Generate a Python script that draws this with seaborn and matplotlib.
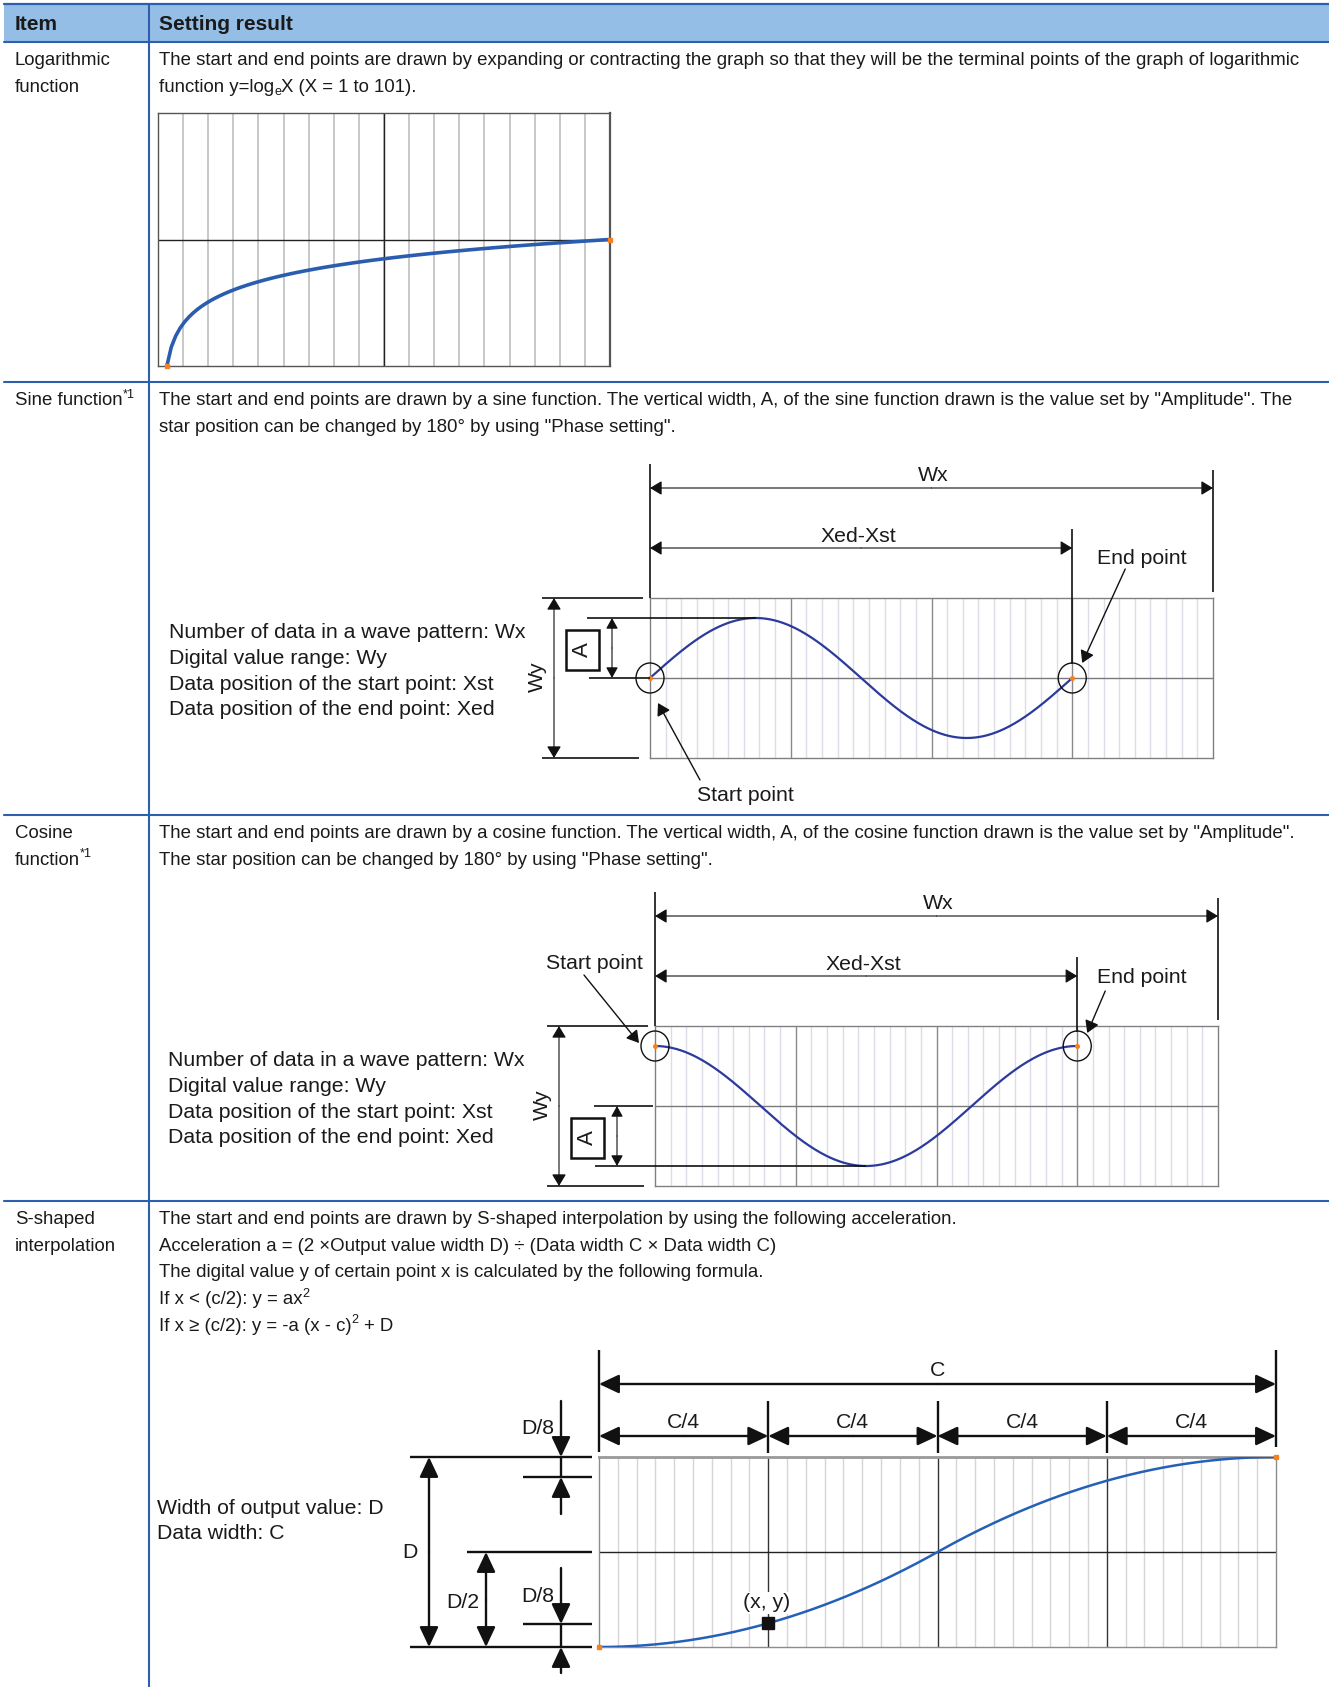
import numpy as np
import pandas as pd
import matplotlib
matplotlib.use("Agg")
import matplotlib.pyplot as plt
from matplotlib.patches import Rectangle, Ellipse
import seaborn as sns

W, H = 1329, 1687

# ---- chart data ----
LOG_X = np.arange(1, 102)            # X = 1 to 101
LOG_COLUMNS = 18                     # grid columns of the log chart
WAVE_COLUMNS = 36                    # Wx: data positions in the wave pattern
WAVE_XST, WAVE_XED = 0, 27           # data positions of start / end point
WAVE_AMPLITUDE = 0.75                # A, as a fraction of Wy / 2
S_WIDTH = 36                         # data width C
S_OUTPUT = 1.0                       # output value width D
S_SECTIONS = ["C/4", "C/4", "C/4", "C/4"]

HEADERS = ["Item", "Setting result"]
ROW_TOPS = [42, 382, 815, 1201]
ITEMS = [
    [[("Logarithmic", "n")], [("function", "n")]],
    [[("Sine function", "n"), ("*1", "sup")]],
    [[("Cosine", "n")], [("function", "n"), ("*1", "sup")]],
    [[("S-shaped", "n")], [("interpolation", "n")]],
]
BODY = [
    [[("The start and end points are drawn by expanding or contracting the graph so that they will be the terminal points of the graph of logarithmic", "n")],
     [("function y=log", "n"), ("e", "sub"), ("X (X = 1 to 101).", "n")]],
    [[("The start and end points are drawn by a sine function. The vertical width, A, of the sine function drawn is the value set by \"Amplitude\". The", "n")],
     [("star position can be changed by 180° by using \"Phase setting\".", "n")]],
    [[("The start and end points are drawn by a cosine function. The vertical width, A, of the cosine function drawn is the value set by \"Amplitude\".", "n")],
     [("The star position can be changed by 180° by using \"Phase setting\".", "n")]],
    [[("The start and end points are drawn by S-shaped interpolation by using the following acceleration.", "n")],
     [("Acceleration a = (2 ×Output value width D) ÷ (Data width C × Data width C)", "n")],
     [("The digital value y of certain point x is calculated by the following formula.", "n")],
     [("If x < (c/2): y = ax", "n"), ("2", "sup")],
     [("If x ≥ (c/2): y = -a (x - c)", "n"), ("2", "sup"), (5, "gap"), ("+ D", "n")]],
]
WAVE_NOTES = ["Number of data in a wave pattern: Wx", "Digital value range: Wy",
              "Data position of the start point: Xst", "Data position of the end point: Xed"]
S_NOTES = ["Width of output value: D", "Data width: C"]

BLUE = "#2d5fae"
HEAD_FILL = "#95bee6"
ORANGE = "#f5821f"
BODY_FS, DIAG_FS, HEAD_FS = 13.4, 15.3, 15

sns.set_theme(style="white")
plt.rcParams["font.family"] = ["Liberation Sans", "DejaVu Sans"]

fig = plt.figure(figsize=(W / 100, H / 100), dpi=100)
renderer = fig.canvas.get_renderer()


def full_axes(z):
    a = fig.add_axes([0, 0, 1, 1], zorder=z)
    a.set_xlim(0, W)
    a.set_ylim(H, 0)
    a.axis("off")
    a.patch.set_alpha(0)
    return a


def px_axes(x0, y0, x1, y1):
    a = fig.add_axes([x0 / W, 1 - y1 / H, (x1 - x0) / W, (y1 - y0) / H], zorder=1)
    a.set_xticks([])
    a.set_yticks([])
    return a


def rich_text(ax, x, y, parts, size, **kw):
    for txt, kind in parts:
        if kind == "gap":
            x += txt
            continue
        fs = size if kind == "n" else size * 0.68
        dy = {"n": 0, "sup": -size * 0.55, "sub": size * 0.25}[kind]
        t = ax.text(x, y + dy, txt, fontsize=fs, va="baseline", ha="left", **kw)
        x += t.get_window_extent(renderer=renderer).width
    return x


bg = full_axes(0)
ov = full_axes(5)

# ---- table ----
bg.add_patch(Rectangle((4, 4), W - 4, 38, facecolor=HEAD_FILL, edgecolor="none"))
bg.plot([4, W], [4, 4], color=BLUE, lw=1.6)
for y in ROW_TOPS:
    bg.plot([4, W], [y, y], color=BLUE, lw=1.5)
bg.plot([149, 149], [4, H], color=BLUE, lw=1.5)
bg.text(15, 22, HEADERS[0], fontsize=HEAD_FS, fontweight="bold", va="center_baseline", color="#1a1a1a")
bg.text(159, 22, HEADERS[1], fontsize=HEAD_FS, fontweight="bold", va="center_baseline", color="#1a1a1a")

for top, item, body in zip(ROW_TOPS, ITEMS, BODY):
    for i, parts in enumerate(item):
        rich_text(bg, 15, top + 23 + i * 26.7, parts, BODY_FS, color="#1a1a1a")
    for i, parts in enumerate(body):
        rich_text(bg, 159, top + 23 + i * 26.7, parts, BODY_FS, color="#1a1a1a")


def arrow(x0, y0, x1, y1, style="-|>", lw=0.8, hl=10, hw=12):
    ov.annotate("", xy=(x1, y1), xytext=(x0, y0),
                arrowprops=dict(arrowstyle=f"{style},head_length={hl * 0.072},head_width={hw * 0.036}",
                                mutation_scale=10, color="#111111", lw=lw,
                                shrinkA=0, shrinkB=0))


def seg(x0, y0, x1, y1, lw=1.0, color="#111111"):
    ov.plot([x0, x1], [y0, y1], color=color, lw=lw, solid_capstyle="butt")


def label(x, y, s, rot=0, fs=DIAG_FS, box=False):
    kw = {}
    if box:
        kw["bbox"] = dict(facecolor="white", edgecolor="none", pad=1.0)
    ov.text(x, y, s, fontsize=fs, ha="center", va="center_baseline" if rot == 0 else "center",
            rotation=rot, color="#1a1a1a", **kw)


# ---- logarithmic chart ----
ax1 = px_axes(158, 113, 610, 366)
x_lo, x_hi = -1, LOG_X[-1]
y_end = np.log(LOG_X[-1])
for gx in np.linspace(x_lo, x_hi, LOG_COLUMNS + 1)[1:-1]:
    ax1.axvline(gx, color="#c8c8c8", lw=1.4, zorder=0)
ax1.axvline((x_lo + x_hi) / 2, color="#222222", lw=1.0, zorder=1)
ax1.axhline(y_end, color="#222222", lw=1.0, zorder=1)
log_df = pd.DataFrame({"X": LOG_X, "y": np.log(LOG_X)})
sns.lineplot(data=log_df, x="X", y="y", ax=ax1, color="#2a5db0", lw=2.6,
             estimator=None, sort=False, zorder=3, clip_on=False)
ax1.plot([LOG_X[0], LOG_X[-1]], [0, y_end], "s", color=ORANGE, ms=3.5, zorder=4, clip_on=False)
ax1.set_xlim(x_lo, x_hi)
ax1.set_ylim(0, 2 * y_end)
ax1.set_xlabel("")
ax1.set_ylabel("")
for sp in ax1.spines.values():
    sp.set_color("#555555")
    sp.set_linewidth(1.0)
ax1.spines["right"].set_linewidth(1.6)


# ---- sine / cosine diagrams ----
def wave_diagram(bx, by, kind):
    bw, bh = 563, 160
    ax = px_axes(bx, by, bx + bw, by + bh)
    for gx in range(1, WAVE_COLUMNS):
        major = gx % 9 == 0
        ax.axvline(gx, color="#8a8a8a" if major else "#dcdde6", lw=1.0, zorder=0)
    ax.axhline(0, color="#7a7a7a", lw=1.0, zorder=1)
    xs = np.linspace(WAVE_XST, WAVE_XED, 300)
    phase = 2 * np.pi * (xs - WAVE_XST) / (WAVE_XED - WAVE_XST)
    ys = WAVE_AMPLITUDE * (np.sin(phase) if kind == "sin" else np.cos(phase))
    sns.lineplot(x=xs, y=ys, ax=ax, color="#2c3a9c", lw=1.6, estimator=None, sort=False, zorder=3)
    ax.plot([xs[0], xs[-1]], [ys[0], ys[-1]], "o", color=ORANGE, ms=2.6, zorder=4, clip_on=False)
    ax.set_xlim(0, WAVE_COLUMNS)
    ax.set_ylim(-1, 1)
    ax.set_xlabel("")
    ax.set_ylabel("")
    for sp in ax.spines.values():
        sp.set_color("#808080")
        sp.set_linewidth(1.0)

    def to_px(x, y):
        return bx + x / WAVE_COLUMNS * bw, by + (1 - y) / 2 * bh

    xed = to_px(WAVE_XED, 0)[0]
    _, yc = to_px(0, ys[0])
    # Wx / Xed-Xst dimension lines
    seg(bx, by - 134, bx, by, lw=1.2)
    seg(bx + bw, by - 128, bx + bw, by - 6, lw=1.2)
    arrow(bx + bw / 2, by - 110, bx, by - 110)
    arrow(bx + bw / 2, by - 110, bx + bw, by - 110)
    label(bx + 283, by - 125, "Wx")
    seg(xed, by - 69, xed, yc - 14, lw=1.2)
    arrow((bx + xed) / 2, by - 50, bx, by - 50)
    arrow((bx + xed) / 2, by - 50, xed, by - 50)
    label(bx + 208, by - 64, "Xed-Xst")
    # circles round start / end points
    for cx in (bx, xed):
        ov.add_patch(Ellipse((cx, yc), 28, 30, fill=False, edgecolor="#111111", lw=1.0))
    # Wy
    seg(bx - 108, by, bx - 7, by, lw=1.2)
    seg(bx - 108, by + bh, bx - 11, by + bh, lw=1.2)
    arrow(bx - 96, by + bh / 2, bx - 96, by)
    arrow(bx - 96, by + bh / 2, bx - 96, by + bh)
    label(bx - 113, by + 79, "Wy", rot=90)
    # A
    mid = to_px(0, 0)[1]
    if kind == "sin":
        peak_x, peak_y = to_px(WAVE_XST + (WAVE_XED - WAVE_XST) / 4, WAVE_AMPLITUDE)
        seg(bx - 63, peak_y, peak_x, peak_y, lw=1.2)
        seg(bx - 61, mid, bx, mid, lw=1.2)
        a_top, a_bot = peak_y, mid
    else:
        tr_x, tr_y = to_px(WAVE_XST + (WAVE_XED - WAVE_XST) / 2, -WAVE_AMPLITUDE)
        seg(bx - 61, mid, bx - 2, mid, lw=1.2)
        seg(bx - 60, tr_y, tr_x, tr_y, lw=1.2)
        a_top, a_bot = mid, tr_y
    arrow(bx - 38, (a_top + a_bot) / 2, bx - 38, a_top, hl=9, hw=10)
    arrow(bx - 38, (a_top + a_bot) / 2, bx - 38, a_bot, hl=9, hw=10)
    ac = (a_top + a_bot) / 2 + 2
    ov.add_patch(Rectangle((bx - 84, ac - 20), 33, 40, fill=False, edgecolor="#111111", lw=1.8))
    label(bx - 67.5, ac, "A", rot=90, fs=16)
    # start / end point callouts
    if kind == "sin":
        label(bx + 95, by + 195, "Start point")
        arrow(bx + 50, by + 182, bx + 8, by + 105, lw=1.0)
        label(xed + 70, by - 41, "End point")
        arrow(xed + 53, by - 29, xed + 10, by + 65, lw=1.0)
    else:
        label(bx - 61, by - 65, "Start point")
        arrow(bx - 71, by - 51, bx - 16, by + 17, lw=1.0)
        label(xed + 65, by - 51, "End point")
        arrow(xed + 28, by - 35, xed + 10, by + 7, lw=1.0)


wave_diagram(650, 598, "sin")
wave_diagram(655, 1026, "cos")

for i, s in enumerate(WAVE_NOTES):
    bg.text(169, 638 + i * 25.8, s, fontsize=DIAG_FS, va="baseline", color="#1a1a1a")
    bg.text(168, 1066 + i * 25.8, s, fontsize=DIAG_FS, va="baseline", color="#1a1a1a")

# ---- S-shaped interpolation ----
bx, by, bw, bh = 599, 1457, 677, 190
ax4 = px_axes(bx, by, bx + bw, by + bh)
for gx in range(1, S_WIDTH):
    major = gx % (S_WIDTH // 4) == 0
    ax4.axvline(gx, color="#333333" if major else "#d6d6d6", lw=1.0, zorder=0)
ax4.axhline(S_OUTPUT / 2, color="#222222", lw=1.0, zorder=1)
acc = 2 * S_OUTPUT / S_WIDTH ** 2
sx = np.linspace(0, S_WIDTH, 361)
sy = np.where(sx < S_WIDTH / 2, acc * sx ** 2, -acc * (sx - S_WIDTH) ** 2 + S_OUTPUT)
sns.lineplot(x=sx, y=sy, ax=ax4, color="#2560b8", lw=1.8, estimator=None, sort=False, zorder=3)
ax4.plot([0, S_WIDTH], [0, S_OUTPUT], "s", color=ORANGE, ms=3, zorder=4, clip_on=False)
qx = S_WIDTH / 4
ax4.plot([qx], [acc * qx ** 2], "s", color="#111111", ms=8.5, zorder=5, clip_on=False)
ax4.set_xlim(0, S_WIDTH)
ax4.set_ylim(0, S_OUTPUT)
ax4.set_xlabel("")
ax4.set_ylabel("")
for sp in ax4.spines.values():
    sp.set_color("#8c8c8c")
    sp.set_linewidth(1.0)
ax4.spines["top"].set_linewidth(2.0)
ax4.spines["top"].set_color("#999999")

SLW, SHL, SHW = 1.7, 17, 16
seg(bx, 1350, bx, 1452, lw=SLW)
seg(bx + bw, 1350, bx + bw, 1447, lw=SLW)
arrow(bx + bw / 2, 1384, bx, 1384, lw=SLW, hl=SHL, hw=SHW)
arrow(bx + bw / 2, 1384, bx + bw, 1384, lw=SLW, hl=SHL, hw=SHW)
label(bx + bw / 2, 1368, "C")
for k, name in enumerate(S_SECTIONS):
    x0 = bx + k * bw / 4
    x1 = bx + (k + 1) * bw / 4
    if k > 0:
        seg(x0, 1401, x0, 1453, lw=SLW)
    arrow((x0 + x1) / 2, 1436, x0, 1436, lw=SLW, hl=SHL, hw=SHW)
    arrow((x0 + x1) / 2, 1436, x1, 1436, lw=SLW, hl=SHL, hw=SHW)
    label((x0 + x1) / 2, 1421, name)

seg(410, by, 592, by, lw=SLW)
seg(523, 1477, 592, 1477, lw=SLW)
seg(467, 1552, 592, 1552, lw=SLW)
seg(523, 1624, 592, 1624, lw=SLW)
seg(410, by + bh, 592, by + bh, lw=SLW)
arrow(429, (by + by + bh) / 2, 429, by, lw=SLW, hl=SHL, hw=SHW)
arrow(429, (by + by + bh) / 2, 429, by + bh, lw=SLW, hl=SHL, hw=SHW)
label(410, 1550, "D")
arrow(486, 1600, 486, 1552, lw=SLW, hl=SHL, hw=SHW)
arrow(486, 1600, 486, by + bh, lw=SLW, hl=SHL, hw=SHW)
label(463, 1600, "D/2")
arrow(561, 1401, 561, by, lw=SLW, hl=SHL, hw=SHW)
seg(561, by, 561, 1477, lw=SLW)
arrow(561, 1514, 561, 1477, lw=SLW, hl=SHL, hw=SHW)
label(538, 1426, "D/8")
arrow(561, 1568, 561, 1624, lw=SLW, hl=SHL, hw=SHW)
seg(561, 1624, 561, by + bh, lw=SLW)
arrow(561, 1673, 561, by + bh, lw=SLW, hl=SHL, hw=SHW)
label(538, 1595, "D/8")
label(767, 1601, "(x, y)", box=True)

for i, s in enumerate(S_NOTES):
    bg.text(157, 1514 + i * 25, s, fontsize=DIAG_FS, va="baseline", color="#1a1a1a")

fig.savefig("out.png", dpi=100)
